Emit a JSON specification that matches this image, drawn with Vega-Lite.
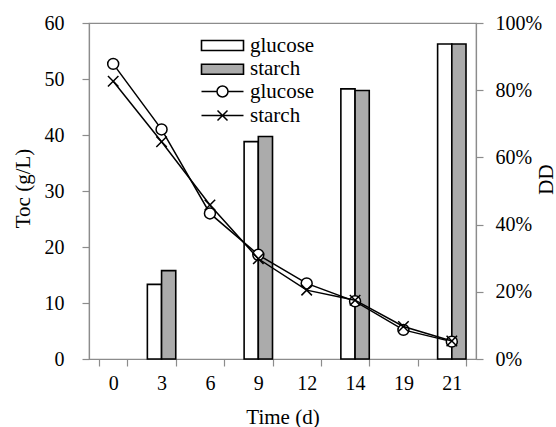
{
  "$schema": "https://vega.github.io/schema/vega-lite/v6.json",
  "width": 387,
  "height": 336,
  "autosize": "none",
  "padding": {"left": 89, "top": 23, "right": 80, "bottom": 68},
  "background": "white",
  "config": {
    "view": {"stroke": "#8c8c8c", "strokeWidth": 1.2},
    "font": "Liberation Serif",
    "axis": {
      "domainColor": "#8c8c8c",
      "domainWidth": 1.2,
      "tickColor": "#8c8c8c",
      "tickWidth": 1.2,
      "tickSize": 7,
      "grid": false,
      "labelFont": "Liberation Serif",
      "labelFontSize": 20,
      "labelColor": "black",
      "titleFont": "Liberation Serif",
      "titleFontSize": 21,
      "titleFontWeight": "normal",
      "titleColor": "black"
    },
    "legend": {
      "labelFont": "Liberation Serif",
      "labelFontSize": 21,
      "labelColor": "black",
      "title": null,
      "orient": "none",
      "padding": 0,
      "symbolSize": 100,
      "labelOffset": 17
    }
  },
  "datasets": {
    "dd": [
      {"time": "3", "sugar": "glucose", "dd": 0.222},
      {"time": "3", "sugar": "starch", "dd": 0.263},
      {"time": "9", "sugar": "glucose", "dd": 0.647},
      {"time": "9", "sugar": "starch", "dd": 0.662},
      {"time": "14", "sugar": "glucose", "dd": 0.804},
      {"time": "14", "sugar": "starch", "dd": 0.799},
      {"time": "21", "sugar": "glucose", "dd": 0.9375},
      {"time": "21", "sugar": "starch", "dd": 0.9375}
    ],
    "toc_glucose": [
      {"time": "0", "substrate": "glucose", "toc": 52.7},
      {"time": "3", "substrate": "glucose", "toc": 41.0},
      {"time": "6", "substrate": "glucose", "toc": 26.0},
      {"time": "9", "substrate": "glucose", "toc": 18.6},
      {"time": "12", "substrate": "glucose", "toc": 13.5},
      {"time": "14", "substrate": "glucose", "toc": 10.3},
      {"time": "19", "substrate": "glucose", "toc": 5.2},
      {"time": "21", "substrate": "glucose", "toc": 3.1}
    ],
    "toc_starch": [
      {"time": "0", "substrate": "starch", "toc": 49.6},
      {"time": "3", "substrate": "starch", "toc": 38.8},
      {"time": "6", "substrate": "starch", "toc": 27.5},
      {"time": "9", "substrate": "starch", "toc": 17.9},
      {"time": "12", "substrate": "starch", "toc": 12.3},
      {"time": "14", "substrate": "starch", "toc": 10.5},
      {"time": "19", "substrate": "starch", "toc": 5.8},
      {"time": "21", "substrate": "starch", "toc": 3.2}
    ]
  },
  "encoding": {
    "x": {
      "field": "time",
      "type": "ordinal",
      "scale": {
        "domain": ["0", "3", "6", "9", "12", "14", "19", "21"],
        "paddingInner": 0.413,
        "paddingOuter": 0.2065
      },
      "axis": {
        "title": "Time (d)",
        "labelAngle": 0,
        "tickBand": "extent",
        "labelPadding": 7,
        "titleY": 58,
        "titleBaseline": "middle"
      }
    }
  },
  "layer": [
    {
      "data": {"name": "dd"},
      "mark": {"type": "bar", "stroke": "black", "strokeWidth": 1.6},
      "encoding": {
        "xOffset": {"field": "sugar", "type": "nominal", "scale": {"domain": ["glucose", "starch"]}},
        "y": {
          "field": "dd",
          "type": "quantitative",
          "scale": {"domain": [0, 1]},
          "axis": {
            "orient": "right",
            "title": "DD",
            "values": [0, 0.2, 0.4, 0.6, 0.8, 1],
            "format": ".0%",
            "labelPadding": 12,
            "titleAngle": 270,
            "titleX": 70,
            "titleY": 156,
            "titleAlign": "center",
            "titleBaseline": "middle",
            "titleColor": "black"
          }
        },
        "fill": {
          "field": "sugar",
          "type": "nominal",
          "scale": {"range": ["white", "#ababab"]},
          "legend": {
            "legendX": 123,
            "legendY": 12,
            "symbolType": "M-4.2,-1H4.2V1H-4.2Z",
            "symbolStrokeColor": "black",
            "symbolStrokeWidth": 1.6,
            "symbolOpacity": 1,
            "rowPadding": 1.7
          }
        }
      }
    },
    {
      "encoding": {
        "y": {
          "field": "toc",
          "type": "quantitative",
          "scale": {"domain": [0, 60]},
          "axis": {
            "orient": "left",
            "title": "Toc (g/L)",
            "values": [0, 10, 20, 30, 40, 50, 60],
            "labelPadding": 18,
            "titleAngle": 270,
            "titleX": -66,
            "titleY": 165,
            "titleAlign": "center",
            "titleBaseline": "middle",
            "titleColor": "black"
          }
        }
      },
      "layer": [
        {
          "data": {"name": "toc_glucose"},
          "layer": [
            {
              "mark": {"type": "line", "stroke": "black", "strokeWidth": 1.5},
              "encoding": {}
            },
            {
              "mark": {"type": "point", "shape": "circle", "size": 120, "filled": true, "fill": "white", "strokeWidth": 1.5, "opacity": 1},
              "encoding": {
                "stroke": {
                  "field": "substrate",
                  "type": "nominal",
                  "scale": {"range": ["black"]},
                  "legend": {
                    "legendX": 123,
                    "legendY": 58,
                    "symbolType": "M-4.2,0H-1.1A1.1,1.1 0 1,1 1.1,0A1.1,1.1 0 1,1 -1.1,0M1.1,0H4.2",
                    "symbolFillColor": "white",
                    "symbolStrokeWidth": 1.5,
                    "symbolOpacity": 1
                  }
                }
              }
            }
          ]
        },
        {
          "data": {"name": "toc_starch"},
          "layer": [
            {
              "mark": {"type": "line", "stroke": "black", "strokeWidth": 1.5},
              "encoding": {}
            },
            {
              "mark": {"type": "point", "shape": "M-1,-1L1,1M-1,1L1,-1", "size": 110, "filled": false, "strokeWidth": 1.5, "opacity": 1},
              "encoding": {
                "stroke": {
                  "field": "substrate",
                  "type": "nominal",
                  "scale": {"range": ["black"]},
                  "legend": {
                    "legendX": 123,
                    "legendY": 82,
                    "symbolType": "M-4.2,0H4.2M-1,-1L1,1M-1,1L1,-1",
                    "symbolFillColor": "white",
                    "symbolStrokeWidth": 1.5,
                    "symbolOpacity": 1
                  }
                }
              }
            }
          ]
        }
      ],
      "resolve": {"scale": {"stroke": "independent"}, "legend": {"stroke": "independent"}}
    }
  ],
  "resolve": {"scale": {"y": "independent"}}
}
